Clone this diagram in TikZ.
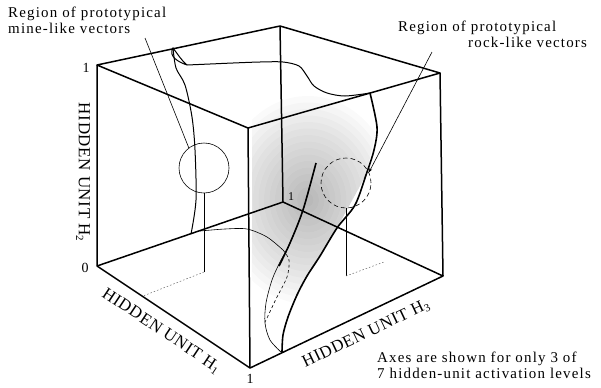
\documentclass[tikz,border=0pt]{standalone}
\usepackage{fontspec}
\setmainfont{Liberation Serif}
\newfontfamily\labfam{Liberation Serif}[LetterSpace=8]
\newfontfamily\axfam{Liberation Serif}[LetterSpace=4]
\usetikzlibrary{arrows.meta}

\newcommand{\hsub}[1]{\raisebox{-0.35ex}{\fontsize{11}{11}\selectfont #1}}

\begin{document}
\begin{tikzpicture}[x=1bp, y=-1bp,
  edge/.style={line width=1.5bp, line join=round},
  bound/.style={line width=1.0bp},
  heavy/.style={line width=1.6bp},
  fine/.style={line width=0.6bp},
  proj/.style={line width=0.5bp, black!60, dash pattern=on 1.5bp off 2bp},
  lab/.style={font=\labfam\fontsize{15}{16}\selectfont, inner sep=0pt, align=left},
  axlab/.style={font=\axfam\fontsize{17}{17}\selectfont, inner sep=0pt},
  num/.style={font=\fontsize{14}{14}\selectfont, inner sep=0pt}]

\useasboundingbox (0,0) rectangle (601,387);

% cube corners
\coordinate (lt) at (97,65);
\coordinate (bt) at (280,26);
\coordinate (rt) at (440,73);
\coordinate (ft) at (248,128);
\coordinate (o)  at (97,266);
\coordinate (fb) at (250,368);
\coordinate (rb) at (443,276);
\coordinate (bb) at (283,202);

% stippled region
\begin{scope}
  \clip (252,98) -- (370,93) -- (377,127) -- (366,175) -- (337,228) -- (307,276) -- (290,305) -- (252,305) -- cycle;
  \foreach \k in {1,...,16}
    \fill[black, opacity=0.02] (308,200) ellipse [x radius={5.5*\k}, y radius={6.5*\k}];
\end{scope}

% cube edges
\draw[edge] (lt) -- (bt) -- (rt) -- (ft) -- cycle;
\draw[edge] (lt) -- (o) -- (fb) -- (rb) -- (rt);
\draw[edge] (ft) -- (fb);
\draw[edge] (bt) -- (bb);
\draw[edge] (o) -- (bb) -- (rb);

% decision boundaries
\draw[bound] (187,65) .. controls (178,62) and (168,56) .. (173,48) .. controls (177,53) and (181,60) .. (187,65);
\draw[bound] plot[smooth] coordinates {(187,65) (210,64) (233,63) (260,62) (283,62) (299,66) (307,76) (314,86) (327,93) (345,96) (370,93)};
\draw[bound] plot[smooth] coordinates {(173,48) (176,68) (185,85) (192,117) (195,150) (196,200) (191,234)};
\draw[heavy] plot[smooth] coordinates {(370,93) (377,127) (374,150) (366,175) (355,205) (337,228) (320,256) (307,276) (297,295) (288,317) (283,335) (282,352)};
\draw[fine] plot[smooth] coordinates {(316,163) (303,210) (290,243) (280,262) (272,280) (266,303) (265,323) (270,340) (282,353)};
\draw[heavy] plot[smooth] coordinates {(316,163) (303,210) (290,243) (279,266)};
\draw[fine] plot[smooth] coordinates {(200,231) (225,229) (247,229) (267,237) (283,250)};
\draw[fine, dash pattern=on 3bp off 2.5bp] plot[smooth] coordinates {(283,250) (289,260) (287,277) (276,299) (267,318) (265,322)};

% prototype regions
\node[circle, draw, fine, minimum size=50bp, inner sep=0pt] (mine) at (204,168) {};
\node[circle, draw, fine, dash pattern=on 4.5bp off 3bp, minimum size=50bp, inner sep=0pt] (rock) at (346,183) {};

% projections onto the floor
\coordinate (minefoot) at (204,272);
\coordinate (mineaxis) at (143,296);
\coordinate (rockfoot) at (346,276);
\coordinate (rockaxis) at (384,262);
\draw[fine] (mine.south) -- (minefoot);
\draw[proj] (minefoot) -- (mineaxis);
\draw[fine] (rock.south) -- (rockfoot);
\draw[proj] (rockfoot) -- (rockaxis);

% labels
\node[lab, anchor=north west] (minelab) at (8,7) {Region of prototypical\\mine-like vectors};
\node[lab, anchor=north west] (rocklab) at (398,21) {Region of prototypical\\\hspace*{70bp}rock-like vectors};
\node[lab, anchor=north west] (note) at (377,352) {Axes are shown for only 3 of\\7 hidden-unit activation levels};
\coordinate (minetail) at (145,38);
\coordinate (rocktail) at (432,52);
\draw[fine] (minetail) -- (mine.127);
\draw[fine, -{Stealth[length=4bp, width=3bp]}] (rocktail) -- (rock.25);

% axes
\node[axlab, rotate=-90] (axtwo) at (83,172) {HIDDEN UNIT H\hsub{2}};
\node[axlab, rotate=-33.7] (axone) at (161,331) {HIDDEN UNIT H\hsub{1}};
\node[axlab, rotate=25.5] (axthree) at (366,334) {HIDDEN UNIT H\hsub{3}};
\node[num] (topone) at (86,68) {1};
\node[num] (zero) at (85,268) {0};
\node[num] (botone) at (250,379) {1};
\node[num, font=\fontsize{12}{12}\selectfont] (backone) at (291,197) {1};

\end{tikzpicture}
\end{document}
